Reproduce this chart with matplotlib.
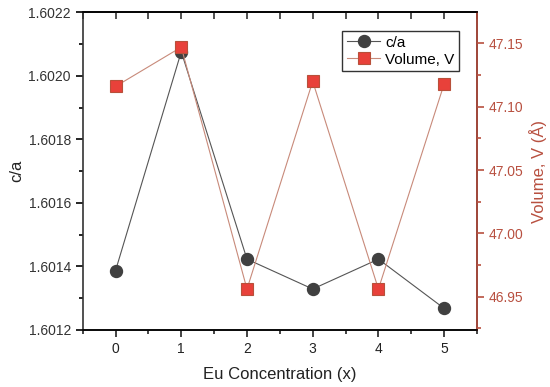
import matplotlib
matplotlib.use("Agg")
import matplotlib.pyplot as plt
from matplotlib.ticker import MultipleLocator, FormatStrFormatter

plt.rcParams['font.family'] = ['Liberation Sans', 'DejaVu Sans']

x = [0, 1, 2, 3, 4, 5]
ca = [1.601387, 1.602076, 1.601423, 1.601329, 1.601423, 1.601268]
vol = [47.116, 47.147, 46.956, 47.120, 46.956, 47.118]

xlabel = "Eu Concentration (x)"
ylabel_left = "c/a"
ylabel_right = "Volume, V (Å)"

red = "#b85040"
fig = plt.figure(figsize=(5.5, 3.87), dpi=100)
ax = fig.add_axes([82.7/550, 1-330/387, (477-82.7)/550, (330-12.3)/387])
ax2 = ax.twinx()

l1, = ax.plot(x, ca, color="#555555", lw=0.8, marker="o", ms=8.6,
              mfc="#404040", mec="#404040", label="c/a", zorder=3)
l2, = ax2.plot(x, vol, color="#c88a7a", lw=0.8, marker="s", ms=9,
               mfc="#e8413a", mec="#b8503a", mew=0.8, label="Volume, V", zorder=2)

ax.set_xlim(-0.5, 5.5)
ax.set_ylim(1.6012, 1.6022)
ax2.set_ylim(46.9237, 47.1745)

ax.xaxis.set_major_locator(MultipleLocator(1))
ax.xaxis.set_minor_locator(MultipleLocator(0.5))
ax.yaxis.set_major_locator(MultipleLocator(0.0002))
ax.yaxis.set_minor_locator(MultipleLocator(0.0001))
ax.yaxis.set_major_formatter(FormatStrFormatter('%.4f'))
ax2.yaxis.set_major_locator(MultipleLocator(0.05))
ax2.yaxis.set_minor_locator(MultipleLocator(0.025))
ax2.yaxis.set_major_formatter(FormatStrFormatter('%.2f'))

for a in (ax, ax2):
    for s in a.spines.values():
        s.set_linewidth(1.2)
ax.spines['left'].set_color("#333333")
ax.spines['bottom'].set_color("#333333")
ax.spines['top'].set_color("#333333")
ax2.spines['right'].set_color(red)
ax2.spines['left'].set_visible(False)

ax.tick_params(axis='x', which='both', direction='out', bottom=True, top=False,
               labelsize=10, colors="#222222")
ax.tick_params(axis='x', which='major', length=5, width=1.2)
ax.tick_params(axis='x', which='minor', length=3, width=1.2)
ax.tick_params(axis='y', which='major', direction='out', length=5, width=1.2, labelsize=10, labelcolor="#333333")
ax.tick_params(axis='y', which='minor', direction='out', length=3, width=1.2)
ax2.tick_params(axis='y', which='major', direction='out', length=5, width=1.2, colors=red, labelsize=10)
ax2.tick_params(axis='y', which='minor', direction='out', length=3, width=1.2, colors=red)

# top ticks pointing inward
secx = ax.secondary_xaxis('top')
secx.xaxis.set_major_locator(MultipleLocator(0.5))
secx.tick_params(axis='x', direction='in', length=5, width=1.2, labeltop=False, colors="#333333")
secx.spines['top'].set_linewidth(1.2)

ax.set_xlabel(xlabel, fontsize=12, color="#222222", labelpad=8)
ax.set_ylabel(ylabel_left, fontsize=12, color="#222222", labelpad=3)
ax2.set_ylabel(ylabel_right, fontsize=12, color=red, labelpad=4)

ax2.legend([l1, l2], ["c/a", "Volume, V"], loc='upper right',
           bbox_to_anchor=(0.954, 0.941), borderaxespad=0, fontsize=11,
           frameon=True, fancybox=False,
           edgecolor="#333333", framealpha=1, handlelength=2.2, borderpad=0.3,
           labelspacing=0.2, handletextpad=0.3)

fig.savefig("out.png", dpi=100)
